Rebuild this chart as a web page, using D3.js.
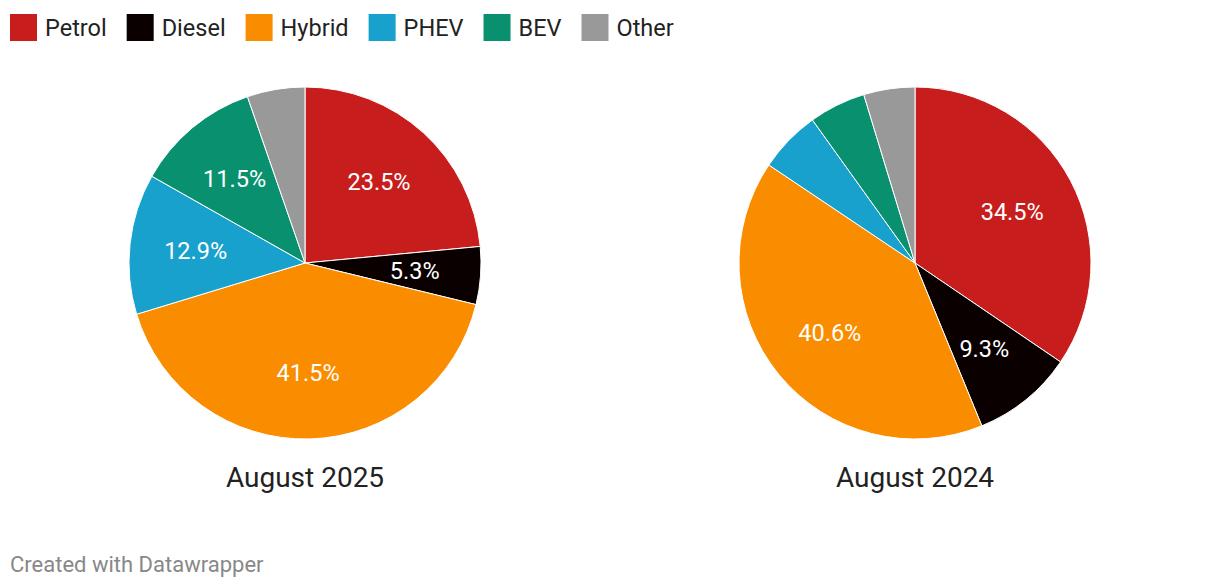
<!DOCTYPE html>
<html>
<head>
<meta charset="utf-8">
<script src="https://cdn.jsdelivr.net/npm/d3@7"></script>
<style>
  body { margin: 0; background: #fff; font-family: Roboto, sans-serif; }
  svg text { font-family: Roboto, sans-serif; }
</style>
</head>
<body>
<div id="chart"></div>
<script>
// categories and colours
const categories = ["Petrol", "Diesel", "Hybrid", "PHEV", "BEV", "Other"];
const colors = ["#c71e1d", "#0a0000", "#fa8c00", "#18a1cd", "#09916f", "#999999"];

// shares in percent
const aug2025 = [23.5, 5.3, 41.5, 12.9, 11.5, 5.3];
const aug2024 = [34.5, 9.3, 40.6, 5.7, 5.2, 4.7];

// which labels datawrapper printed
const labels2025 = ["Petrol", "Diesel", "Hybrid", "PHEV", "BEV"];
const labels2024 = ["Petrol", "Diesel", "Hybrid"];

const pies = [
  { title: "August 2025", values: aug2025, labels: labels2025 },
  { title: "August 2024", values: aug2024, labels: labels2024 }
];

const width = 1220, height = 588;
const radius = 176;
const centers = [305, 915];
const cy = 263;

const svg = d3.select("#chart").append("svg")
  .attr("width", width)
  .attr("height", height);

const color = d3.scaleOrdinal().domain(categories).range(colors);

// legend
const legend = svg.append("g").attr("transform", "translate(10,14)");
let lx = 0;
categories.forEach(c => {
  const item = legend.append("g").attr("transform", `translate(${lx},0)`);
  item.append("rect")
    .attr("width", 27)
    .attr("height", 27)
    .attr("fill", color(c));
  const t = item.append("text")
    .attr("x", 35)
    .attr("y", 14)
    .attr("dy", "0.35em")
    .style("font-size", "23.5px")
    .attr("fill", "#222")
    .text(c);
  lx += 35 + t.node().getComputedTextLength() + 20;
});

const pie = d3.pie().sort(null).value(d => d.value);
const arc = d3.arc().innerRadius(0).outerRadius(radius);
const labelArc = d3.arc().innerRadius(110).outerRadius(110);

pies.forEach((p, i) => {
  const data = categories.map((c, j) => ({ cat: c, value: p.values[j] }));
  const g = svg.append("g")
    .attr("transform", `translate(${centers[i]},${cy})`);

  g.selectAll("path")
    .data(pie(data))
    .enter().append("path")
      .attr("d", arc)
      .attr("fill", d => color(d.data.cat))
      .attr("stroke", "#fff")
      .attr("stroke-width", 1);

  g.selectAll(".lbl")
    .data(pie(data).filter(d => p.labels.includes(d.data.cat)))
    .enter().append("text")
      .attr("class", "lbl")
      .attr("transform", d => `translate(${labelArc.centroid(d)})`)
      .attr("text-anchor", "middle")
      .attr("dy", "0.35em")
      .attr("fill", "#fff")
      .style("font-size", "23.5px")
      .text(d => d.data.value.toFixed(1) + "%");

  g.append("text")
    .attr("y", 214)
    .attr("dy", "0.35em")
    .attr("text-anchor", "middle")
    .attr("fill", "#222")
    .style("font-size", "28px")
    .text(p.title);
});

svg.append("text")
  .attr("x", 10)
  .attr("y", 564)
  .attr("dy", "0.35em")
  .attr("fill", "#888")
  .style("font-size", "22px")
  .text("Created with Datawrapper");
</script>
</body>
</html>
